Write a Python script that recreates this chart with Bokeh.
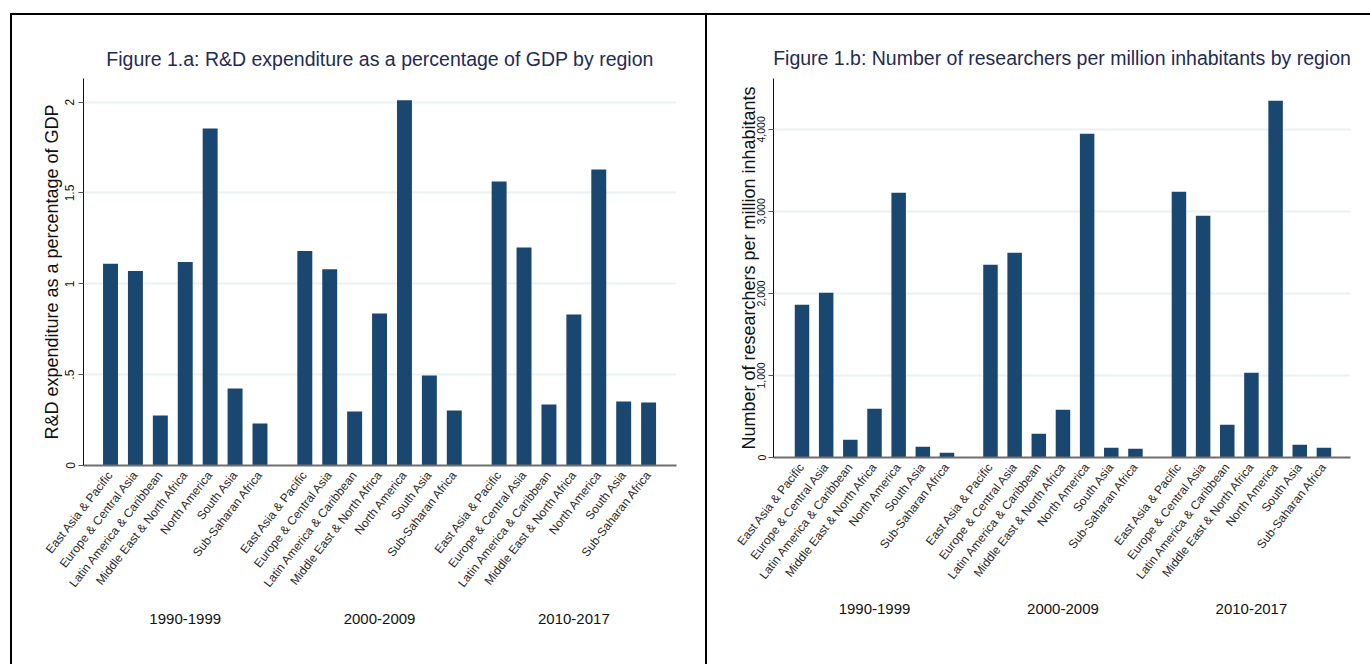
from bokeh.plotting import figure
from bokeh.layouts import row
from bokeh.models import Range1d, FixedTicker, LinearAxis, NumeralTickFormatter
from bokeh.embed import file_html
from bokeh.resources import INLINE

# ---- data ----
regions = ["East Asia & Pacific", "Europe & Central Asia", "Latin America & Caribbean",
           "Middle East & North Africa", "North America", "South Asia", "Sub-Saharan Africa"]
periods = ["1990-1999", "2000-2009", "2010-2017"]

rd_1990 = [1.11, 1.07, 0.275, 1.12, 1.855, 0.424, 0.231]
rd_2000 = [1.18, 1.08, 0.297, 0.837, 2.01, 0.495, 0.303]
rd_2010 = [1.563, 1.20, 0.336, 0.831, 1.629, 0.352, 0.347]

res_1990 = [1862, 2008, 215, 593, 3228, 130, 57]
res_2000 = [2350, 2496, 289, 581, 3947, 118, 106]
res_2010 = [3240, 2947, 398, 1033, 4350, 154, 118]

rd_ticks = [0, 0.5, 1, 1.5, 2]
rd_tick_labels = ["0", ".5", "1", "1.5", "2"]
res_ticks = [0, 1000, 2000, 3000, 4000]

title_a = "Figure 1.a: R&D expenditure as a percentage of GDP by region"
title_b = "Figure 1.b: Number of researchers per million inhabitants by region"
ylabel_a = "R&D expenditure as a percentage of GDP"
ylabel_b = "Number of researchers per million inhabitants"

# ---- styling / layout constants ----
NAVY = "#1a476f"
TITLE_COLOR = "#1e2b55"
FONT = "Liberation Sans"
SLOT = 5
GROUP = 39

xs = [g * GROUP + i * SLOT for g in range(len(periods)) for i in range(len(regions))]
labels = {x: regions[k % len(regions)] for k, x in enumerate(xs)}
group_centers = [g * GROUP + 3 * SLOT for g in range(len(periods))]
group_labels = {c: periods[g] for g, c in enumerate(group_centers)}


def make_panel(values, title, ylabel, ymax, xr, fw, fh, borders, yticks,
               ylab_overrides=None, yfmt=None, group_standoff=16, ytick_size="12px",
               title_standoff=15, ylabel_standoff=0, ytick_standoff=3):
    p = figure(frame_width=fw, frame_height=fh, x_range=Range1d(*xr), y_range=Range1d(0, ymax),
               output_backend="svg", toolbar_location=None,
               min_border_left=borders[0], min_border_right=borders[1],
               min_border_top=borders[2], min_border_bottom=borders[3])
    p.outline_line_color = None
    p.background_fill_color = "white"
    p.border_fill_color = "white"

    p.vbar(x=xs, top=values, width=3, bottom=0, fill_color=NAVY, line_color=None)

    p.title.text = title
    p.title.align = "center"
    p.title.text_font = FONT
    p.title.text_font_size = "19.5px"
    p.title.text_font_style = "normal"
    p.title.text_color = TITLE_COLOR
    p.title.standoff = title_standoff

    # x axis with region labels
    xa = p.xaxis[0]
    xa.ticker = FixedTicker(ticks=xs)
    xa.major_label_overrides = labels
    xa.major_label_orientation = 0.907
    xa.major_tick_line_color = None
    xa.major_tick_out = 0
    xa.major_tick_in = 0
    xa.minor_tick_line_color = None
    xa.minor_tick_out = 0
    xa.major_label_text_font = FONT
    xa.major_label_text_font_size = "12px"
    xa.major_label_text_color = "#2a2a2a"
    xa.major_label_standoff = 7
    xa.axis_line_color = "#6e6e6e"
    xa.axis_line_width = 2
    xa.axis_label_standoff = 0

    # group axis
    ga = LinearAxis(ticker=FixedTicker(ticks=group_centers), major_label_overrides=group_labels)
    ga.axis_line_color = None
    ga.major_tick_line_color = None
    ga.major_tick_out = 0
    ga.major_tick_in = 0
    ga.minor_tick_line_color = None
    ga.minor_tick_out = 0
    ga.axis_label_standoff = 0
    ga.major_label_text_font = FONT
    ga.major_label_text_font_size = "15px"
    ga.major_label_text_color = "#111111"
    ga.major_label_standoff = group_standoff
    p.add_layout(ga, "below")

    # y axis
    ya = p.yaxis[0]
    ya.ticker = FixedTicker(ticks=yticks)
    if ylab_overrides:
        ya.major_label_overrides = ylab_overrides
    if yfmt:
        ya.formatter = yfmt
    ya.major_label_orientation = "vertical"
    ya.major_label_text_font = FONT
    ya.major_label_text_font_size = ytick_size
    ya.major_label_text_color = "#111111"
    ya.major_label_standoff = ytick_standoff
    ya.major_tick_out = 5
    ya.major_tick_in = 0
    ya.major_tick_line_color = "#555555"
    ya.minor_tick_line_color = None
    ya.axis_line_color = "#111111"
    ya.axis_line_width = 1
    ya.axis_label = ylabel
    ya.axis_label_text_font = FONT
    ya.axis_label_text_font_size = "18px"
    ya.axis_label_text_font_style = "normal"
    ya.axis_label_text_color = "#111111"
    ya.axis_label_standoff = ylabel_standoff

    p.xgrid.visible = False
    p.ygrid.ticker = FixedTicker(ticks=yticks)
    p.ygrid.grid_line_color = "#eaf2f3"
    p.ygrid.grid_line_width = 2
    return p


p1 = make_panel(rd_1990 + rd_2000 + rd_2010, title_a, ylabel_a, 2.13, (-5.42, 113.6),
                593, 387, (71, 29, 63, 199), rd_ticks,
                ylab_overrides={t: s for t, s in zip(rd_ticks, rd_tick_labels)},
                group_standoff=16, ytick_size="12px", title_standoff=17,
                ylabel_standoff=1, ytick_standoff=4)
p2 = make_panel(res_1990 + res_2000 + res_2010, title_b, ylabel_b, 4620, (-5.9, 113.5),
                577, 379, (66, 20, 62, 208), res_ticks,
                yfmt=NumeralTickFormatter(format="0,0"),
                group_standoff=14, ytick_size="10.5px", title_standoff=19,
                ylabel_standoff=-4, ytick_standoff=3)

p1.styles = {"outline": "2px solid black"}
p1.margin = (15, 0, 0, 12)
p2.styles = {"outline": "2px solid black"}
p2.margin = (15, 0, 0, 2)

layout = row(p1, p2)
open("out.html", "w").write(file_html(layout, INLINE))
